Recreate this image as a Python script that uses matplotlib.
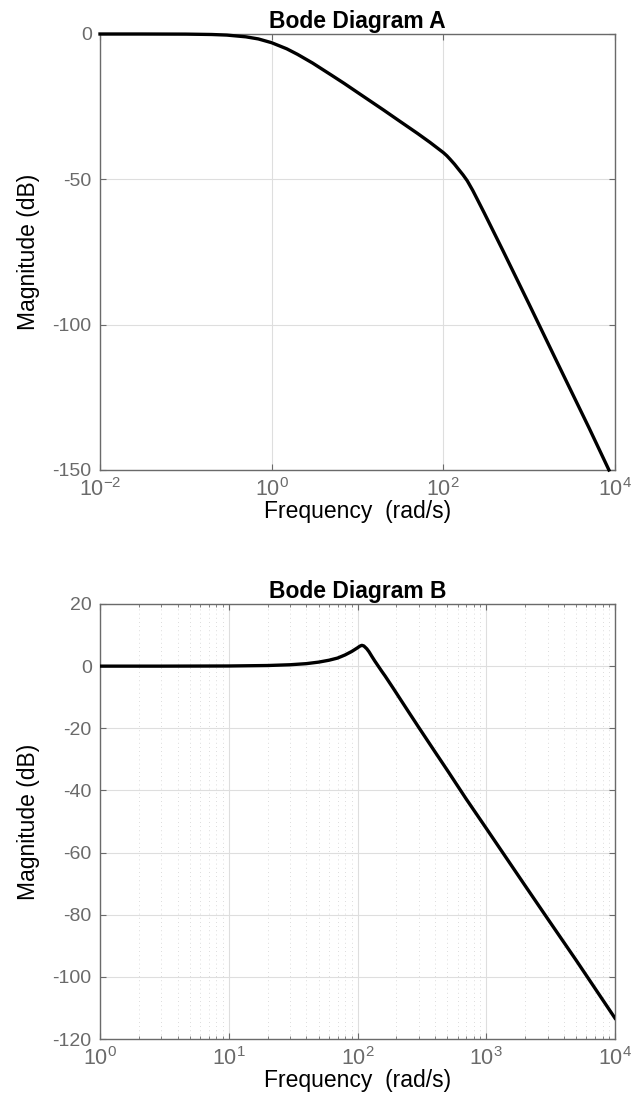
import matplotlib
matplotlib.use('Agg')
from matplotlib import pyplot as plt
from matplotlib.ticker import NullLocator, LogLocator

# magnitude values
freq_a = [0.01, 0.03, 0.1, 0.2, 0.3, 0.5, 0.7, 1, 1.5, 2, 3, 5, 7, 10, 20, 30, 50, 70,
          100, 110, 120, 135, 150, 170, 190, 220, 250, 300, 500, 1000, 2000, 5000, 8500]
mag_a = [0, 0, -0.04, -0.17, -0.37, -0.97, -1.7, -3.0, -5.1, -7.0, -10.0, -14.2, -17.0, -20.1,
         -26.1, -29.7, -34.2, -37.3, -40.8, -41.9, -43.1, -44.8, -46.5, -48.5, -50.5, -53.8,
         -57.0, -61.6, -74.8, -93.0, -111.4, -135.6, -150.0]

freq_b = [1, 3, 10, 20, 30, 40, 50, 60, 70, 80, 90, 100, 104, 108, 112, 118, 123, 129, 136,
          145, 154, 164, 190, 214, 250, 300, 400, 500, 700, 1000, 2000, 3000, 5000, 10000]
mag_b = [0, 0, 0.05, 0.2, 0.45, 0.8, 1.3, 1.9, 2.6, 3.6, 4.7, 5.9, 6.4, 6.7, 6.5, 5.6, 4.6, 3.2,
         1.7, 0.0, -1.6, -3.2, -7.2, -10.5, -14.8, -19.8, -27.6, -33.6, -42.8, -52.2, -70.6,
         -81.3, -94.7, -113.3]

titles = ['Bode Diagram A', 'Bode Diagram B']
xticks_a = [1e-2, 1e0, 1e2, 1e4]
xticklabels_a = ['$10^{-2}$', '$10^{0}$', '$10^{2}$', '$10^{4}$']
yticks_a = [0, -50, -100, -150]
xticks_b = [1e0, 1e1, 1e2, 1e3, 1e4]
xticklabels_b = ['$10^{0}$', '$10^{1}$', '$10^{2}$', '$10^{3}$', '$10^{4}$']
yticks_b = [20, 0, -20, -40, -60, -80, -100, -120]

plt.rcParams['font.family'] = ['Liberation Sans', 'DejaVu Sans']
plt.rcParams['mathtext.fontset'] = 'custom'
plt.rcParams['mathtext.rm'] = 'Liberation Sans'
plt.rcParams['mathtext.it'] = 'Liberation Sans:italic'
plt.rcParams['mathtext.bf'] = 'Liberation Sans:bold'
plt.rcParams['axes.unicode_minus'] = False

axis_grey = '#6a6a6a'
grid_grey = '#dedede'

fig = plt.figure(figsize=(6.35, 11.07), dpi=100)
ax1 = fig.add_axes([100 / 635, 1 - 470 / 1107, 515 / 635, 436 / 1107])
ax2 = fig.add_axes([100 / 635, 1 - 1039 / 1107, 515 / 635, 435 / 1107])


def style_axes(ax, title):
    ax.set_xscale('log')
    for sp in ax.spines.values():
        sp.set_color(axis_grey)
        sp.set_linewidth(1.0)
    ax.tick_params(which='both', direction='in', top=True, right=True,
                   colors=axis_grey, labelcolor=axis_grey)
    ax.tick_params(axis='y', labelsize=14)
    ax.tick_params(axis='x', labelsize=15.5)
    ax.tick_params(which='major', length=4, width=0.8, pad=6)
    ax.tick_params(which='minor', length=2.5, width=0.6)
    ax.set_title(title, fontsize=16.5, fontweight='bold', pad=4)
    ax.set_xlabel('Frequency  (rad/s)', fontsize=16.5, labelpad=-1)
    ax.set_ylabel('Magnitude (dB)', fontsize=16.5, labelpad=9)
    ax.set_axisbelow(True)


# top: Bode Diagram A
style_axes(ax1, titles[0])
ax1.plot(freq_a, mag_a, color='black', linewidth=2.4, clip_on=False, zorder=3)
ax1.set_xlim(1e-2, 1e4)
ax1.set_ylim(-150, 0)
ax1.set_xticks(xticks_a)
ax1.set_xticklabels(xticklabels_a)
ax1.xaxis.set_minor_locator(NullLocator())
ax1.set_yticks(yticks_a)
ax1.grid(True, which='major', color=grid_grey, linewidth=0.8)

# bottom: Bode Diagram B
style_axes(ax2, titles[1])
ax2.plot(freq_b, mag_b, color='black', linewidth=2.4, zorder=3)
ax2.set_xlim(1e0, 1e4)
ax2.set_ylim(-120, 20)
ax2.set_xticks(xticks_b)
ax2.set_xticklabels(xticklabels_b)
ax2.xaxis.set_minor_locator(LogLocator(base=10, subs=range(2, 10)))
ax2.set_yticks(yticks_b)
ax2.grid(True, which='major', color=grid_grey, linewidth=0.8)
ax2.grid(True, which='minor', axis='x', color='#d0d0d0', linewidth=0.6, linestyle=(0, (1, 4)))
ax2.grid(True, which='minor', axis='y', color='#d0d0d0', linewidth=0.6, linestyle=(0, (1, 4)))
ax2.yaxis.set_minor_locator(NullLocator())

fig.savefig('out.png', dpi=100)
